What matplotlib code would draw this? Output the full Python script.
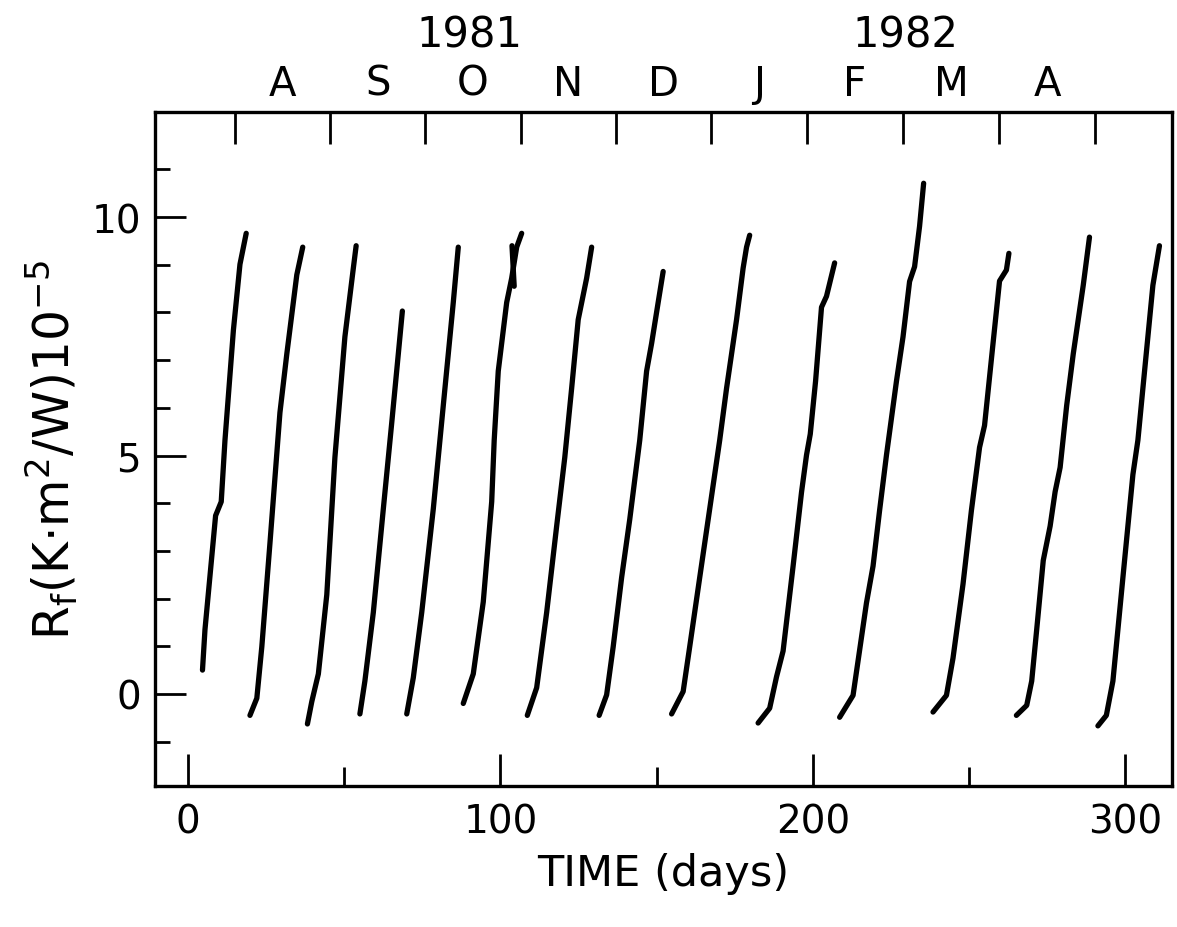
import matplotlib
matplotlib.use("Agg")
import matplotlib.pyplot as plt
import matplotlib.transforms as mtransforms

plt.rcParams["font.family"] = ["DejaVu Sans"]
plt.rcParams["mathtext.default"] = "regular"

# fouling runs: time (days) and fouling resistance Rf (x 1e-5 K m2/W)
t01 = [4.6, 5.4, 8.8, 10.6, 11.8, 14.5, 16.6, 18.6]
rf01 = [0.50, 1.35, 3.74, 4.03, 5.32, 7.63, 9.01, 9.66]
t02 = [19.8, 22.0, 23.6, 26.2, 29.4, 31.6, 34.8, 36.7]
rf02 = [-0.45, -0.09, 0.99, 3.16, 5.90, 7.13, 8.79, 9.37]
t03 = [38.2, 39.6, 41.7, 44.4, 47.0, 50.2, 52.9, 53.8]
rf03 = [-0.63, -0.16, 0.42, 2.08, 4.96, 7.49, 8.93, 9.40]
t04 = [55.0, 56.6, 59.3, 62.5, 65.2, 67.3, 68.6]
rf04 = [-0.42, 0.27, 1.71, 3.88, 5.69, 7.13, 8.03]
t05 = [70.0, 72.1, 74.8, 78.5, 81.7, 84.9, 86.5]
rf05 = [-0.42, 0.34, 1.71, 3.88, 6.05, 8.21, 9.37]
t06 = [88.1, 91.3, 94.5, 97.2, 98.0, 99.3, 102.0, 103.6, 105.2, 106.8]
rf06 = [-0.20, 0.42, 1.93, 4.03, 5.32, 6.77, 8.21, 8.72, 9.37, 9.66]
t06b = [104.4, 103.7]
rf06b = [8.55, 9.40]
t07 = [108.6, 111.6, 114.8, 118.0, 120.6, 122.8, 124.9, 127.6, 129.2]
rf07 = [-0.45, 0.13, 1.71, 3.52, 4.96, 6.41, 7.85, 8.72, 9.37]
t08 = [131.6, 134.0, 136.1, 138.8, 141.4, 144.6, 146.8, 148.4, 150.5, 152.1]
rf08 = [-0.45, -0.02, 0.99, 2.44, 3.66, 5.32, 6.77, 7.35, 8.21, 8.86]
t09 = [154.8, 158.5, 160.6, 163.8, 167.0, 170.2, 172.4, 175.6, 177.7, 178.8, 179.8]
rf09 = [-0.42, 0.05, 0.99, 2.44, 3.88, 5.32, 6.41, 7.85, 8.93, 9.37, 9.62]
t10 = [182.5, 186.2, 188.4, 190.5, 193.7, 196.4, 198.0, 199.2, 200.9, 202.8, 204.4, 207.0]
rf10 = [-0.61, -0.30, 0.36, 0.90, 2.68, 4.23, 5.01, 5.45, 6.56, 8.11, 8.34, 9.04]
t11 = [208.6, 212.9, 217.2, 219.3, 221.4, 223.6, 226.8, 228.9, 231.0, 232.6, 234.2, 235.5]
rf11 = [-0.49, -0.03, 1.91, 2.68, 3.85, 5.01, 6.56, 7.49, 8.65, 8.96, 9.81, 10.71]
t12 = [238.5, 242.8, 244.9, 248.1, 250.8, 253.4, 255.0, 257.7, 259.8, 262.0, 262.8]
rf12 = [-0.38, -0.03, 0.75, 2.30, 3.85, 5.17, 5.63, 7.34, 8.66, 8.89, 9.24]
t13 = [265.2, 268.5, 270.1, 271.7, 273.8, 276.0, 277.6, 279.2, 281.3, 283.4, 285.0, 286.6, 288.6]
rf13 = [-0.45, -0.24, 0.27, 1.35, 2.80, 3.52, 4.24, 4.75, 6.05, 7.13, 7.85, 8.57, 9.58]
t14 = [291.3, 294.0, 296.1, 297.7, 299.3, 300.9, 302.5, 304.1, 305.7, 307.3, 308.9, 311.0]
rf14 = [-0.67, -0.45, 0.27, 1.35, 2.44, 3.52, 4.60, 5.32, 6.41, 7.49, 8.57, 9.40]

runs = [(t01, rf01), (t02, rf02), (t03, rf03), (t04, rf04), (t05, rf05),
        (t06, rf06), (t06b, rf06b), (t07, rf07), (t08, rf08), (t09, rf09),
        (t10, rf10), (t11, rf11), (t12, rf12), (t13, rf13), (t14, rf14)]

# calendar on the top axis
month_starts = [15, 45.5, 76, 106.5, 137, 167.5, 198, 229, 259.5, 290.5]
month_names = ["A", "S", "O", "N", "D", "J", "F", "M", "A"]
years = ["1981", "1982"]
year_pos = [90, 229.5]

fig = plt.figure(figsize=(11.77, 9.28), dpi=100)
ax = fig.add_axes([0.1317, 0.152, 0.864, 0.726])

for t, rf in runs:
    ax.plot(t, rf, color="black", lw=3.8, solid_capstyle="round", solid_joinstyle="round")

ax.set_xlim(-10.6, 315)
ax.set_ylim(-1.93, 12.2)

ax.set_xticks([0, 100, 200, 300])
ax.set_xticks([50, 150, 250], minor=True)
ax.set_yticks([0, 5, 10])
ax.set_yticks([-1, 1, 2, 3, 4, 6, 7, 8, 9, 11], minor=True)
ax.tick_params(axis="x", which="major", direction="in", length=23, width=2, labelsize=28, pad=12)
ax.tick_params(axis="x", which="minor", direction="in", length=14, width=2)
ax.tick_params(axis="y", which="major", direction="in", length=22, width=2, labelsize=28, pad=10)
ax.tick_params(axis="y", which="minor", direction="in", length=11, width=2)
for s in ax.spines.values():
    s.set_linewidth(2.4)

ax.set_xlabel("TIME (days)", fontsize=31, labelpad=8)
ax.set_ylabel("R$_f$(K·m$^2$/W)10$^{-5}$", fontsize=35, labelpad=8)

ax2 = ax.twiny()
ax2.set_xlim(ax.get_xlim())
ax2.set_xticks(month_starts)
ax2.set_xticklabels([])
mids = [(a + b) / 2 for a, b in zip(month_starts[:-1], month_starts[1:])]
ax2.set_xticks(mids, minor=True)
ax2.set_xticklabels(month_names, minor=True)
ax2.tick_params(axis="x", which="major", direction="in", length=23, width=2)
ax2.tick_params(axis="x", which="minor", length=0, labelsize=29, pad=6)

trans = mtransforms.blended_transform_factory(ax.transData, ax.transAxes)
for yr, xp in zip(years, year_pos):
    ax.text(xp, 1.116, yr, transform=trans, ha="center", va="center", fontsize=30)

fig.savefig("out.png", dpi=100)
